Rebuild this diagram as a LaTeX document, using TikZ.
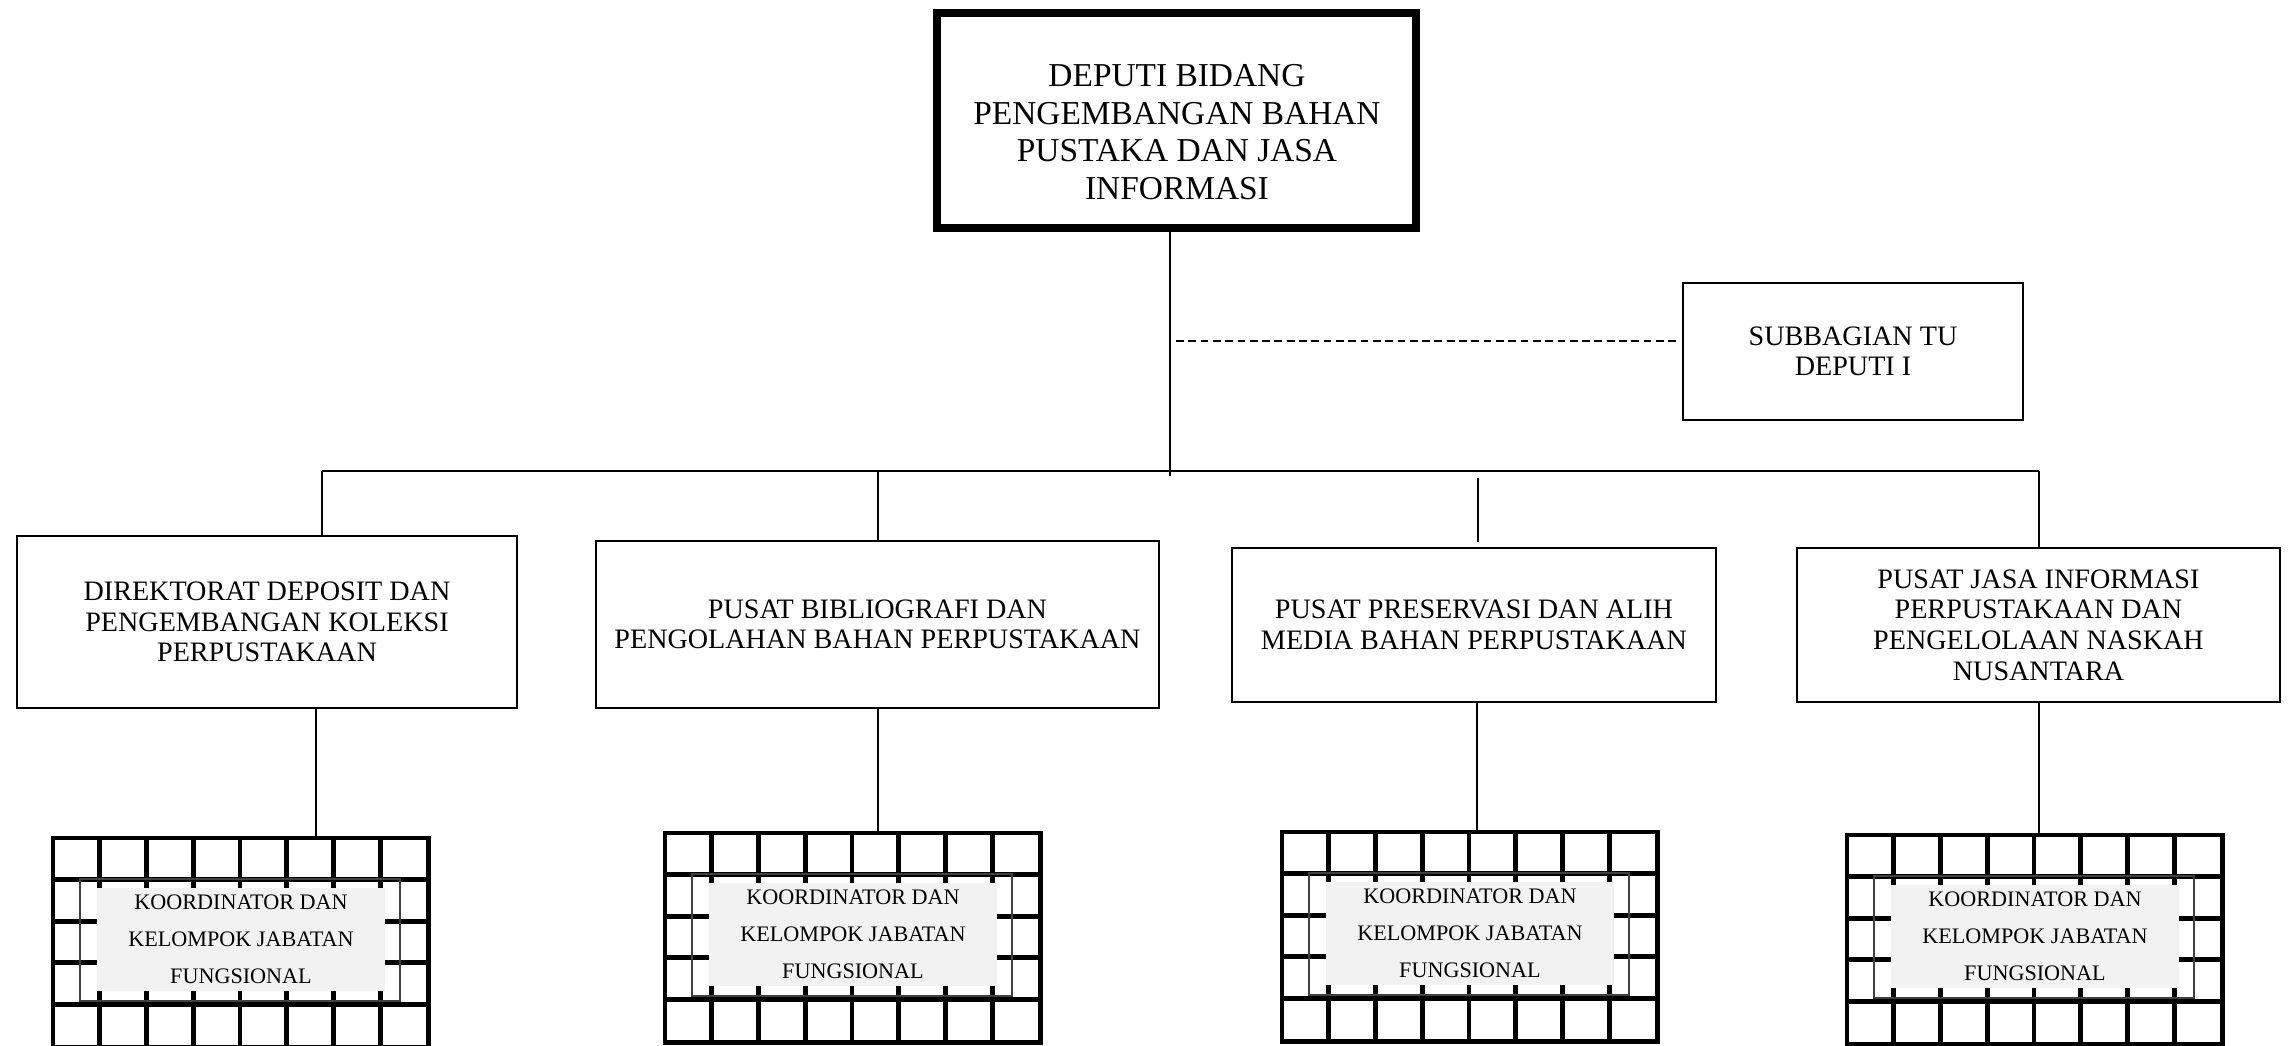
\documentclass[tikz,border=0pt]{standalone}
\usepackage{fontspec}
\setmainfont{Liberation Serif}
\usetikzlibrary{positioning}

\begin{document}
\begin{tikzpicture}[
    x=0.01cm, y=-0.01cm,
    deputi/.style={draw, line width=2.3pt, inner sep=0pt,
        minimum width=4.79cm, minimum height=2.15cm},
    deputitext/.style={inner sep=0pt, align=center, font=\fontsize{9.5}{10.7}\selectfont},
    unit/.style={draw, line width=0.6pt, inner sep=0pt, align=center,
        font=\fontsize{8}{8.7}\selectfont},
    jabatan/.style={fill=black!5, inner sep=0pt, align=center,
        minimum width=2.88cm, minimum height=1.03cm, font=\fontsize{6.3}{10.5}\selectfont},
    gridframe/.style={minimum width=3.74cm, minimum height=2.08cm, inner sep=0pt},
    gridline/.style={line width=1.4pt},
    link/.style={line width=0.6pt},
]
\useasboundingbox (0,0) rectangle (2293,1045);

% --- Top: deputi and its secretariat ---
\node[deputi] (deputi) at (1176.5,120.5) {};
\node[deputitext] (deputi-text) at (1177,132) {DEPUTI BIDANG\\PENGEMBANGAN BAHAN\\PUSTAKA DAN JASA\\INFORMASI};
\node[unit, minimum width=3.40cm, minimum height=1.37cm] (tu) at (1853,351.5) {SUBBAGIAN TU\\DEPUTI I};

% --- Second level units ---
\node[unit, minimum width=5.00cm, minimum height=1.72cm] (dir) at (267,622) {DIREKTORAT DEPOSIT DAN\\PENGEMBANGAN KOLEKSI\\PERPUSTAKAAN};
\node[unit, minimum width=5.63cm, minimum height=1.67cm] (bib) at (877.5,624.5) {PUSAT BIBLIOGRAFI DAN\\PENGOLAHAN BAHAN PERPUSTAKAAN};
\node[unit, minimum width=4.84cm, minimum height=1.54cm] (pres) at (1474,625) {PUSAT PRESERVASI DAN ALIH\\MEDIA BAHAN PERPUSTAKAAN};
\node[unit, minimum width=4.83cm, minimum height=1.54cm] (jasa) at (2038.5,625) {PUSAT JASA INFORMASI\\PERPUSTAKAAN DAN\\PENGELOLAAN NASKAH\\NUSANTARA};

% Bar and taps
\coordinate (hub) at (1170,471);
\coordinate (hubend) at (1170,476);
\coordinate (tap) at (1170,341);
\coordinate (b1) at (322,471);
\coordinate (b2) at (878,471);
\coordinate (b3) at (1478,471);
\coordinate (b4) at (2039,471);

\draw[link] (deputi.south -| hub) -- (hubend);
\draw[link, dash pattern=on 2.2pt off 1.3pt, shorten <=1.7pt, shorten >=1.7pt] (tap) -- (tu.west |- tap);
\draw[link] (b1) -- (b4);
\draw[link] (b1) -- (b1 |- dir.north);
\draw[link] (b2) -- (b2 |- bib.north);
\draw[link, shorten <=2pt, shorten >=1.4pt] (b3) -- (b3 |- pres.north);
\draw[link] (b4) -- (b4 |- jasa.north);

% --- Functional groups (grid boxes) ---
\foreach \u/\gx/\gy/\dx in {dir/53/838/316, bib/665/833/878, pres/1282/832/1477, jasa/1847/835/2039} {
    \node[gridframe, anchor=north west] (kjf-\u) at (\gx,\gy) {};
    \foreach \i in {1,...,7} {
        \draw[gridline] ({\gx+\i*46.75},\gy) -- ++(0,208);
    }
    \foreach \j in {1,...,4} {
        \draw[gridline] (\gx,{\gy+\j*41.6}) -- ++(374,0);
    }
    \draw[gridline] (kjf-\u.north west) rectangle (kjf-\u.south east);
    \draw[line width=0.6pt, draw=black!75] ({\gx+27},{\gy+41}) rectangle ({\gx+347},{\gy+163});
    \node[jabatan] (kjft-\u) at ({\gx+188},{\gy+101.5}) {KOORDINATOR DAN\\KELOMPOK JABATAN\\FUNGSIONAL};
    \coordinate (drop-\u) at (\dx,0);
    \draw[link] (\u.south -| drop-\u) -- (kjf-\u.north -| drop-\u);
}

\end{tikzpicture}
\end{document}
